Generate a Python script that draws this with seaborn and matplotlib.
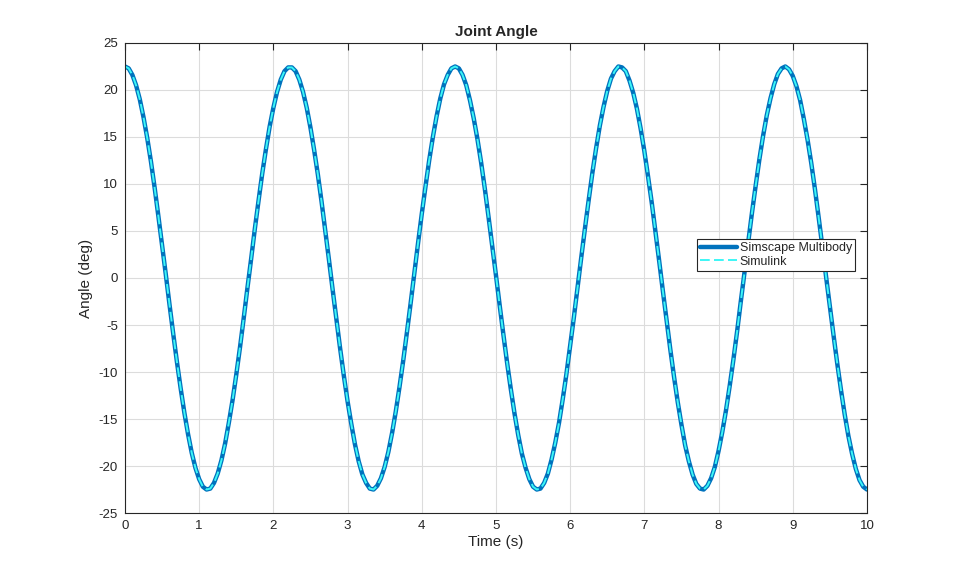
import numpy as np
import pandas as pd
import seaborn as sns
import matplotlib.pyplot as plt

# sample times (s), 0.05 s step
time_s = np.round(np.arange(201) * 0.05, 2)

# joint angle (deg)
angle_multibody = [
    22.5, 22.3, 21.6, 20.5, 19.0, 17.1, 14.9, 12.4, 9.6, 6.6,
    3.5, 0.4, -2.8, -5.9, -8.9, -11.7, -14.3, -16.6, -18.6, -20.2,
    -21.4, -22.2, -22.5, -22.4, -21.8, -20.8, -19.4, -17.6, -15.4, -13.0,
    -10.3, -7.4, -4.3, -1.1, 2.0, 5.2, 8.2, 11.1, 13.7, 16.1,
    18.1, 19.8, 21.1, 22.0, 22.4, 22.4, 22.0, 21.1, 19.8, 18.1,
    16.0, 13.6, 11.0, 8.1, 5.0, 1.9, -1.3, -4.4, -7.5, -10.4,
    -13.1, -15.5, -17.7, -19.5, -20.9, -21.8, -22.4, -22.5, -22.1, -21.3,
    -20.1, -18.5, -16.5, -14.2, -11.6, -8.8, -5.8, -2.7, 0.5, 3.7,
    6.8, 9.7, 12.5, 15.0, 17.2, 19.1, 20.6, 21.6, 22.3, 22.5,
    22.3, 21.6, 20.5, 18.9, 17.0, 14.8, 12.3, 9.5, 6.5, 3.4,
    0.3, -2.9, -6.0, -9.0, -11.8, -14.4, -16.7, -18.7, -20.2, -21.4,
    -22.2, -22.5, -22.4, -21.8, -20.8, -19.3, -17.5, -15.4, -12.9, -10.2,
    -7.2, -4.2, -1.0, 2.2, 5.3, 8.3, 11.2, 13.8, 16.2, 18.2,
    19.9, 21.2, 22.0, 22.5, 22.4, 22.0, 21.0, 19.7, 18.0, 15.9,
    13.5, 10.8, 8.0, 4.9, 1.8, -1.4, -4.5, -7.6, -10.5, -13.2,
    -15.6, -17.8, -19.5, -20.9, -21.9, -22.4, -22.5, -22.1, -21.3, -20.1,
    -18.4, -16.4, -14.1, -11.5, -8.7, -5.7, -2.5, 0.6, 3.8, 6.9,
    9.8, 12.6, 15.1, 17.3, 19.1, 20.6, 21.7, 22.3, 22.5, 22.2,
    21.5, 20.4, 18.9, 16.9, 14.7, 12.2, 9.4, 6.4, 3.3, 0.1,
    -3.0, -6.1, -9.1, -11.9, -14.5, -16.8, -18.7, -20.3, -21.5, -22.2,
    -22.5,
]
# Simulink result lies on top of the Multibody one
angle_simulink = list(angle_multibody)

df = pd.DataFrame({'time': time_s,
                   'multibody': angle_multibody,
                   'simulink': angle_simulink})

sns.set_theme(style='whitegrid')
plt.rcParams['font.family'] = ['Liberation Sans', 'DejaVu Sans']
plt.rcParams['axes.unicode_minus'] = False

fig = plt.figure(figsize=(9.59, 5.77), dpi=100)
ax = fig.add_axes([0.1303, 0.1109, 0.7737, 0.8146])

sns.lineplot(data=df, x='time', y='multibody', ax=ax, color='#0072BD',
             linewidth=3.2, label='Simscape Multibody', estimator=None)
sns.lineplot(data=df, x='time', y='simulink', ax=ax, color='#3CF6F6',
             linewidth=1.4, linestyle=(0, (5, 2.2)), label='Simulink',
             estimator=None)

ax.set_xlim(0, 10)
ax.set_ylim(-25, 25)
ax.set_xticks(range(0, 11))
ax.set_yticks(range(-25, 26, 5))
ax.set_xlabel('Time (s)', fontsize=11, color='#262626', labelpad=2)
ax.set_ylabel('Angle (deg)', fontsize=11, color='#262626', labelpad=4)
ax.set_title('Joint Angle', fontsize=11, fontweight='bold', pad=5)

ax.set_facecolor('white')
ax.grid(True, color='#dcdcdc', linewidth=0.8)
for s in ax.spines.values():
    s.set_color('#262626')
    s.set_linewidth(0.8)
ax.tick_params(direction='in', length=5, width=0.8, colors='#262626',
               labelsize=9.5, top=True, right=True, pad=5)

leg = ax.legend(loc='center right', bbox_to_anchor=(0.984, 0.549),
                fontsize=9, frameon=True, fancybox=False, framealpha=1,
                edgecolor='#262626', handlelength=3.0, handletextpad=0.2,
                borderpad=0.25, labelspacing=0.1, borderaxespad=0)
leg.get_frame().set_linewidth(0.8)

fig.savefig('out.png', dpi=100, facecolor='white')
